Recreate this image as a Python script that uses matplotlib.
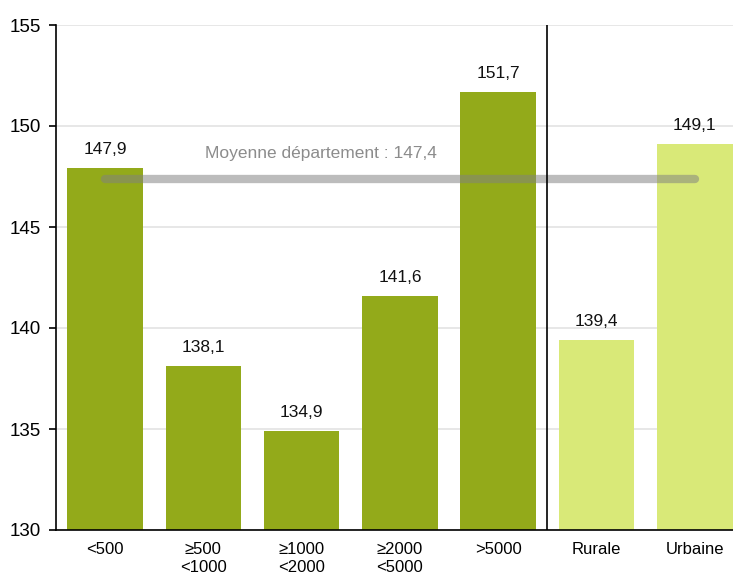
import numpy as np
import matplotlib.pyplot as plt

plt.rcParams['font.family'] = ['Liberation Sans', 'DejaVu Sans']

categories = ['<500', '≥500\n<1000', '≥1000\n<2000', '≥2000\n<5000', '>5000', 'Rurale', 'Urbaine']
values = [147.9, 138.1, 134.9, 141.6, 151.7, 139.4, 149.1]
value_labels = ['147,9', '138,1', '134,9', '141,6', '151,7', '139,4', '149,1']
mean_value = 147.4
mean_label = 'Moyenne département : 147,4'

dark = '#93aa1a'
light = '#d9e978'
colors = [dark] * 5 + [light] * 2

fig = plt.figure(figsize=(7.33, 5.77), dpi=100)
ax = fig.add_axes([56 / 733, 1 - 530 / 577, 1 - 56 / 733, (530 - 25) / 577])

x = np.arange(len(categories))
ax.bar(x, [v - 130 for v in values], bottom=130, width=0.77, color=colors, zorder=2)

for xi, v, lab in zip(x, values, value_labels):
    ax.annotate(lab, (xi, v), xytext=(0, 8), textcoords='offset points',
                ha='center', va='bottom', fontsize=12.5, color='#111111')

# mean line across all bars
ax.plot([x[0], x[-1]], [mean_value, mean_value], color='#808080', alpha=0.52,
        linewidth=6, solid_capstyle='round', zorder=3)
ax.text(2.2, mean_value + 0.85, mean_label, ha='center', va='bottom',
        fontsize=12.5, color='#8c8c8c')

# separator between size classes and rural / urban
ax.axvline(4.5, color='black', linewidth=1.2, zorder=4)

ax.set_ylim(130, 155)
ax.set_yticks(np.arange(130, 156, 5))
ax.set_xlim(-0.5, 6.39)
ax.set_xticks(x)
ax.set_xticklabels(categories, fontsize=12, linespacing=1.25)
ax.tick_params(axis='x', length=0, pad=9)
ax.tick_params(axis='y', labelsize=13.5, length=5, width=1.2, direction='out', pad=6)
ax.yaxis.grid(True, color='#e3e3e3', linewidth=1.2, zorder=0)
ax.set_axisbelow(True)

for s in ['top', 'right']:
    ax.spines[s].set_visible(False)
ax.spines['left'].set_linewidth(1.2)
ax.spines['bottom'].set_linewidth(1.2)

fig.savefig('out.png', dpi=100)
